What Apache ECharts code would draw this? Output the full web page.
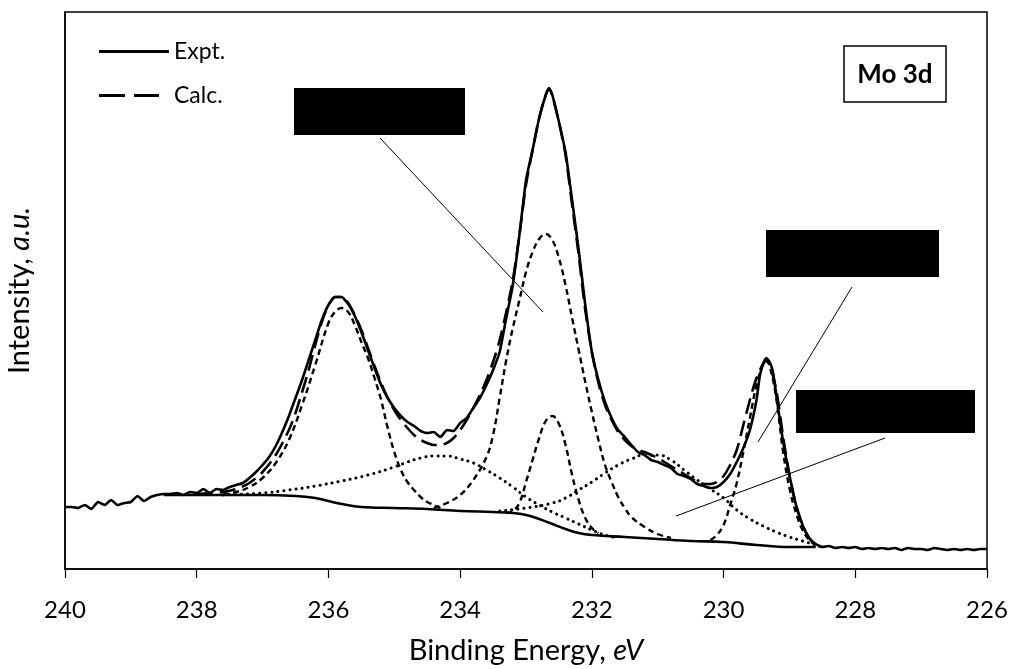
<!DOCTYPE html>
<html>
<head>
<meta charset="utf-8">
<script src="https://cdn.jsdelivr.net/npm/echarts@6/dist/echarts.min.js"></script>
<style>
html,body{margin:0;padding:0;background:#fff;}
#chart{width:1012px;height:669px;}
</style>
</head>
<body>
<div id="chart"></div>
<script>
// ---- Data (binding energy in eV, intensity in arbitrary units) ----
const xTicks = [240, 238, 236, 234, 232, 230, 228, 226];

const exptE = [240.0,239.9,239.8,239.7,239.6,239.5,239.4,239.3,239.2,239.1,239.0,238.9,238.8,238.7,238.6,238.5,238.4,238.3,238.2,238.1,238.0,237.9,237.8,237.7,237.6,237.5,237.4,237.3,237.2,237.1,237.0,236.9,236.8,236.7,236.6,236.5,236.4,236.3,236.2,236.1,236.0,235.9,235.8,235.7,235.6,235.5,235.4,235.3,235.2,235.1,235.0,234.9,234.8,234.7,234.6,234.5,234.4,234.3,234.2,234.1,234.0,233.9,233.8,233.7,233.6,233.5,233.4,233.3,233.2,233.1,233.0,232.9,232.8,232.7,232.65,232.6,232.5,232.4,232.3,232.2,232.1,232.0,231.9,231.8,231.7,231.6,231.5,231.4,231.3,231.2,231.1,231.0,230.9,230.8,230.7,230.6,230.5,230.4,230.3,230.2,230.1,230.0,229.9,229.8,229.7,229.6,229.5,229.45,229.4,229.35,229.3,229.25,229.2,229.1,229.0,228.9,228.8,228.7,228.6,228.5,228.4,228.3,228.2,228.1,228.0,227.9,227.8,227.7,227.6,227.5,227.4,227.3,227.2,227.1,227.0,226.9,226.8,226.7,226.6,226.5,226.4,226.3,226.2,226.1,226.0];
const exptI = [62,62,61,64,60,67,64,69,64,66,67,73,68,72,74,75,75,76,74,77,76,80,76,80,79,82,84,86,91,97,104,112,123,137,153,171,189,209,229,249,264,272,272,265,253,237,219,201,184,171,161,153,147,143,138,136,137,132,139,138,146,151,161,171,184,199,217,251,284,334,389,419,451,474,481,474,447,417,369,319,264,217,189,167,151,139,132,124,117,114,109,107,104,101,95,93,90,85,83,81,82,87,95,107,121,139,169,193,205,211,207,197,174,129,94,64,44,31,25,22,23,21,22,21,22,20,21,20,21,20,21,19,21,20,20,19,21,20,19,20,19,20,19,20,20];

const calcE = [238.0,237.8,237.6,237.4,237.2,237.0,236.8,236.6,236.5,236.4,236.3,236.2,236.1,236.0,235.9,235.8,235.7,235.6,235.5,235.4,235.3,235.2,235.1,235.0,234.9,234.8,234.7,234.6,234.5,234.4,234.3,234.2,234.1,234.0,233.9,233.8,233.7,233.6,233.5,233.4,233.3,233.2,233.1,233.0,232.9,232.8,232.7,232.65,232.6,232.5,232.4,232.3,232.2,232.1,232.0,231.9,231.8,231.7,231.6,231.5,231.4,231.3,231.2,231.1,231.0,230.9,230.8,230.7,230.6,230.5,230.4,230.3,230.2,230.1,230.0,229.9,229.8,229.7,229.6,229.5,229.4,229.35,229.3,229.2,229.1,229.0,228.9,228.8,228.7,228.6,228.5];
const calcI = [75,76,77,80,86,97,114,139,156,177,199,224,247,264,272,272,266,254,239,221,203,186,171,159,149,141,134,129,126,124,124,126,131,139,149,161,174,189,207,229,257,289,334,384,419,451,474,480,473,447,414,364,314,259,217,186,164,149,137,129,123,119,117,114,111,107,103,99,95,91,87,85,85,87,93,104,119,144,169,191,205,208,204,179,134,94,64,44,31,24,22];

const bgE = [238.5,238.0,237.5,237.0,236.5,236.2,236.0,235.8,235.5,235.0,234.5,234.0,233.5,233.2,233.0,232.8,232.6,232.4,232.2,232.0,231.5,231.0,230.5,230.0,229.5,229.0,228.6];
const bgI = [74,74,74,74,73,71,68,65,62,61,60,58,57,56,54,50,45,40,36,34,32,30,28,27,24,22,22];

const peakAE = [237.6,237.4,237.2,237.0,236.8,236.6,236.4,236.2,236.0,235.9,235.8,235.7,235.6,235.5,235.4,235.3,235.2,235.1,235.0,234.9,234.8,234.7,234.6,234.5,234.4,234.3];
const peakAI = [75,77,82,91,106,129,164,204,246,257,261,257,244,227,211,191,169,141,117,99,87,79,72,67,64,61];

const peakBE = [234.4,234.2,234.0,233.8,233.6,233.5,233.4,233.3,233.2,233.1,233.0,232.9,232.8,232.7,232.6,232.5,232.4,232.3,232.2,232.1,232.0,231.9,231.8,231.7,231.6,231.5,231.4,231.2,231.0,230.8];
const peakBI = [61,66,74,89,112,134,171,209,241,269,297,317,330,335,329,311,284,251,219,187,157,129,104,87,72,61,52,42,35,31];

const peakCE = [233.3,233.2,233.1,233.0,232.9,232.8,232.7,232.6,232.5,232.4,232.3,232.2,232.1,232.0,231.9];
const peakCI = [56,58,66,87,109,131,148,153,145,124,94,69,51,41,36];

const peakDE = [230.2,230.1,230.0,229.9,229.8,229.7,229.6,229.5,229.4,229.35,229.3,229.2,229.1,229.0,228.9,228.8,228.7,228.6];
const peakDI = [29,34,44,64,86,117,151,184,205,208,203,171,119,81,56,39,29,24];

const broadEE = [237.6,237.0,236.6,236.2,235.8,235.4,235.0,234.8,234.6,234.4,234.2,234.0,233.8,233.6,233.4,233.2,233.0,232.8,232.6,232.4,232.2,232.0,231.8,231.6];
const broadEI = [74,76,79,83,88,94,102,107,111,113,113,110,106,99,91,82,72,64,57,51,45,39,34,31];

const broadFE = [233.4,233.0,232.6,232.4,232.2,232.0,231.8,231.6,231.4,231.2,231.0,230.8,230.6,230.4,230.2,230.0,229.8,229.6,229.4,229.2,229.0,228.8,228.6];
const broadFI = [58,61,66,71,79,87,96,104,110,114,114,109,99,89,80,71,59,50,43,37,32,28,24];

// ---- Build ----
const zip = (xs, ys) => xs.map((x, i) => [x, ys[i]]);
const FONT = 'Lato';

const compDash = { color: '#000', width: 2.4, type: [6, 4] };
const dotStyle = { color: '#000', width: 3, type: [0.1, 6], cap: 'round' };

const solidIcon = 'path://M0,0h70v3h-70z';
const dashIcon = 'path://M0,0h26v3h-26z M35,0h25v3h-25z M69.9,1.4h0.1v0.1h-0.1z';

const chart = echarts.init(document.getElementById('chart'), null, { renderer: 'canvas' });
chart.setOption({
  animation: false,
  backgroundColor: '#fff',
  textStyle: { fontFamily: FONT, color: '#000' },
  grid: { left: 65, right: 25, top: 12, bottom: 100, show: true, borderColor: '#000', borderWidth: 1.5, containLabel: false, outerBoundsMode: 'none' },
  legend: {
    left: 94, top: 35, orient: 'vertical', itemWidth: 70, itemHeight: 3, itemGap: 21,
    textStyle: { fontFamily: FONT, fontSize: 23, color: '#000' },
    itemStyle: { color: '#000', borderWidth: 0 },
    data: [
      { name: 'Expt.', icon: solidIcon },
      { name: 'Calc.', icon: dashIcon }
    ]
  },
  xAxis: {
    type: 'value', min: 226, max: 240, interval: 2, inverse: true,
    name: 'Binding Energy, {i|eV}', nameLocation: 'middle', nameGap: 67,
    nameTextStyle: { fontFamily: FONT, fontSize: 29, color: '#000', rich: { i: { fontFamily: FONT, fontSize: 29, fontStyle: 'italic', color: '#000' } } },
    axisLine: { show: true, lineStyle: { color: '#000', width: 1.5 } },
    axisTick: { show: true, inside: false, length: 9, lineStyle: { color: '#000', width: 1.2 } },
    axisLabel: { fontFamily: FONT, fontSize: 24, color: '#000', margin: 29, formatter: v => (xTicks.indexOf(v) >= 0 ? String(v) : '') },
    splitLine: { show: false }
  },
  yAxis: {
    type: 'value', min: 0, max: 557,
    name: 'Intensity, {i|a.u.}', nameLocation: 'middle', nameGap: 31, nameRotate: 90,
    nameTextStyle: { fontFamily: FONT, fontSize: 29, color: '#000', rich: { i: { fontFamily: FONT, fontSize: 29, fontStyle: 'italic', color: '#000' } } },
    axisLine: { show: true, lineStyle: { color: '#000', width: 1.5 } },
    axisTick: { show: false }, axisLabel: { show: false }, splitLine: { show: false }
  },
  series: [
    { name: 'Background', type: 'line', data: zip(bgE, bgI), symbol: 'none', smooth: 0.4, lineStyle: { color: '#000', width: 2.6 }, z: 2 },
    { name: 'Peak A', type: 'line', data: zip(peakAE, peakAI), symbol: 'none', smooth: 0.4, lineStyle: compDash, z: 3 },
    { name: 'Peak B', type: 'line', data: zip(peakBE, peakBI), symbol: 'none', smooth: 0.4, lineStyle: compDash, z: 3 },
    { name: 'Peak C', type: 'line', data: zip(peakCE, peakCI), symbol: 'none', smooth: 0.4, lineStyle: compDash, z: 3 },
    { name: 'Peak D', type: 'line', data: zip(peakDE, peakDI), symbol: 'none', smooth: 0.4, lineStyle: compDash, z: 3 },
    { name: 'Broad E', type: 'line', data: zip(broadEE, broadEI), symbol: 'none', smooth: 0.5, lineStyle: dotStyle, z: 3 },
    { name: 'Broad F', type: 'line', data: zip(broadFE, broadFI), symbol: 'none', smooth: 0.5, lineStyle: dotStyle, z: 3 },
    { name: 'Calc.', type: 'line', data: zip(calcE, calcI), symbol: 'none', smooth: 0.3, lineStyle: { color: '#000', width: 2.6, type: [16, 7] }, itemStyle: { color: '#000' }, z: 4 },
    { name: 'Expt.', type: 'line', data: zip(exptE, exptI), symbol: 'none', smooth: 0.15, lineStyle: { color: '#000', width: 2.6 }, itemStyle: { color: '#000' }, z: 5 }
  ],
  graphic: [
    { type: 'rect', shape: { x: 294, y: 88, width: 171, height: 47 }, style: { fill: '#000' }, z: 10 },
    { type: 'line', shape: { x1: 380, y1: 138, x2: 543, y2: 312 }, style: { stroke: '#000', lineWidth: 1 }, z: 10 },
    { type: 'rect', shape: { x: 766, y: 230, width: 173, height: 47 }, style: { fill: '#000' }, z: 10 },
    { type: 'line', shape: { x1: 852, y1: 287, x2: 758, y2: 442 }, style: { stroke: '#000', lineWidth: 1 }, z: 10 },
    { type: 'rect', shape: { x: 796, y: 390, width: 179, height: 43 }, style: { fill: '#000' }, z: 10 },
    { type: 'line', shape: { x1: 885, y1: 438, x2: 676, y2: 516 }, style: { stroke: '#000', lineWidth: 1 }, z: 10 },
    { type: 'rect', shape: { x: 844, y: 46, width: 102, height: 56 }, style: { fill: '#fff', stroke: '#000', lineWidth: 1.5 }, z: 10 },
    { type: 'text', x: 895, y: 75, style: { text: 'Mo 3d', fontFamily: FONT, fontSize: 26, fontWeight: 'bold', fill: '#000', align: 'center', verticalAlign: 'middle' }, z: 11 }
  ]
});
</script>
</body>
</html>
